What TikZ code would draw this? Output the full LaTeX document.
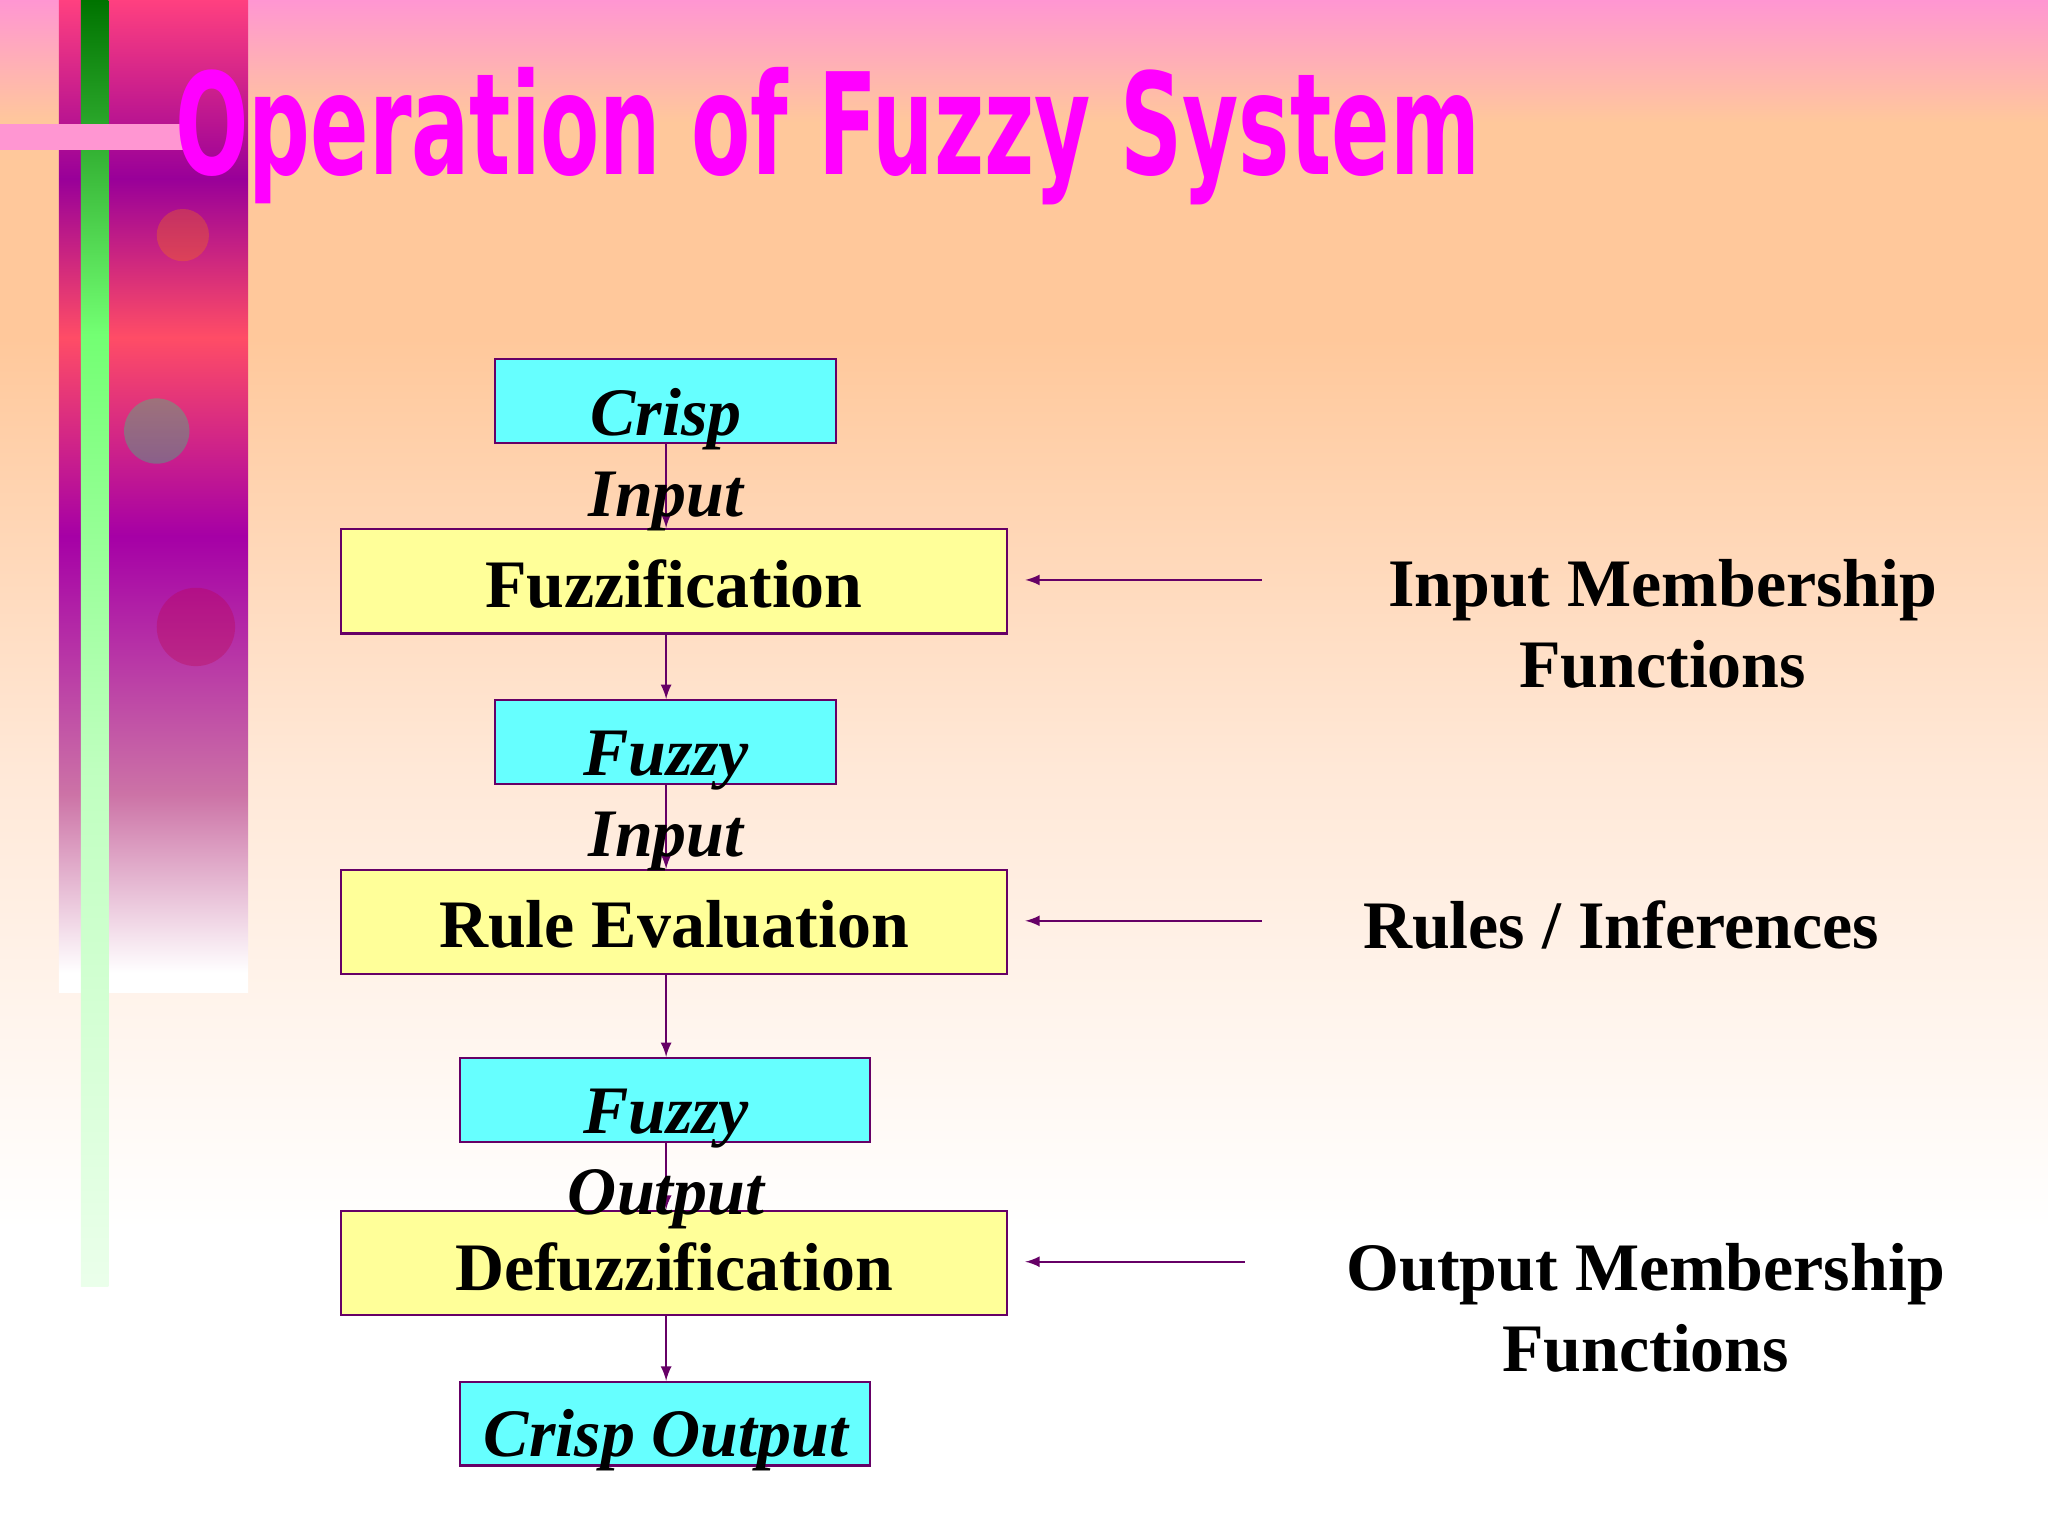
\documentclass[tikz,border=0pt]{standalone}
\usepackage{fontspec}
\setmainfont{Liberation Serif}
\newfontfamily\titlefont{DejaVu Sans Condensed}
\definecolor{bgpink}{RGB}{255,150,210}
\definecolor{bgpeach}{RGB}{255,200,155}
\definecolor{bgpale}{RGB}{255,232,215}
\definecolor{boxcyan}{RGB}{102,255,255}
\definecolor{boxyellow}{RGB}{255,255,153}
\definecolor{edge}{RGB}{102,0,102}
\definecolor{titlemag}{RGB}{255,0,255}
\pgfdeclareverticalshading{bgshade}{100bp}{color(0bp)=(white); color(35bp)=(white); color(50bp)=(bgpale); color(64bp)=(bgpeach); color(71bp)=(bgpeach); color(75bp)=(bgpink); color(100bp)=(bgpink)}
\pgfdeclareverticalshading{greenbar}{100bp}{color(0bp)=(green!8); color(25bp)=(green!8); color(45bp)=(green!25); color(62bp)=(green!55); color(75bp)=(green!45!black); color(100bp)=(green!45!black)}
\pgfdeclareverticalshading{stripshade}{100bp}{color(0bp)=(white); color(26bp)=(white); color(35bp)=(violet!40!pink); color(48bp)=(violet!70!magenta); color(58bp)=(orange!60!magenta); color(66bp)=(violet!80!magenta); color(75bp)=(magenta!50!orange); color(100bp)=(magenta!50!orange)}
\begin{document}
\begin{tikzpicture}[x=0.5pt,y=-0.5pt,
  cbox/.style={draw=edge,fill=boxcyan,line width=0.8pt},
  ybox/.style={draw=edge,fill=boxyellow,line width=0.8pt},
  btxt/.style={font=\fontsize{26}{31}\selectfont\bfseries},
  itxt/.style={font=\fontsize{26}{31}\selectfont\bfseries\itshape},
  arr/.style={draw=edge,line width=0.9pt,-latex}]
\shade[shading=bgshade] (0,0) rectangle (1568,1176);
\useasboundingbox (0,0) rectangle (1568,1176);
% decorative strip
\shade[shading=stripshade] (45,0) rectangle (190,760);
\fill[green!50!cyan,opacity=0.3] (120,330) circle (25);
\fill[orange,opacity=0.3] (140,180) circle (20);
\fill[purple,opacity=0.3] (150,480) circle (30);
\shade[shading=greenbar] (62,0) rectangle (83,985);
\fill[bgpink] (0,95) rectangle (140,115);
\node[font=\titlefont\bfseries\fontsize{54}{56}\selectfont,text=titlemag,anchor=west,inner sep=0pt,xscale=0.68] (title) at (134,104) {Operation of Fuzzy System};
% boxes
\node[cbox,minimum width=130.5pt,minimum height=32pt,inner sep=0pt] (ci) at (509.5,307) {};
\node[ybox,minimum width=255pt,minimum height=40pt,inner sep=0pt] (fz) at (516,445) {};
\node[cbox,minimum width=130.5pt,minimum height=32pt,inner sep=0pt] (fi) at (509.5,568) {};
\node[ybox,minimum width=255pt,minimum height=40pt,inner sep=0pt] (re) at (516,706) {};
\node[cbox,minimum width=157pt,minimum height=32pt,inner sep=0pt] (fo) at (509,842) {};
\node[ybox,minimum width=255pt,minimum height=40pt,inner sep=0pt] (df) at (516,967) {};
\node[cbox,minimum width=157pt,minimum height=32pt,inner sep=0pt] (co) at (509,1090) {};
% arrows
\draw[arr] (ci.south -| 510,0) -- (fz.north -| 510,0);
\draw[arr] (fz.south -| 510,0) -- (fi.north -| 510,0);
\draw[arr] (fi.south -| 510,0) -- (re.north -| 510,0);
\draw[arr] (re.south -| 510,0) -- (fo.north -| 510,0);
\draw[arr] (fo.south -| 510,0) -- (df.north -| 510,0);
\draw[arr] (df.south -| 510,0) -- (co.north -| 510,0);
% texts
\node[itxt,align=center,inner sep=0pt] (t1) at (510,352) {Crisp\\Input};
\node[btxt] (t2) at (516,447) {Fuzzification};
\node[itxt,align=center,inner sep=0pt] (t3) at (510,613) {Fuzzy\\Input};
\node[btxt] (t4) at (516,708) {Rule Evaluation};
\node[itxt,align=center,inner sep=0pt] (t5) at (510,887) {Fuzzy\\Output};
\node[btxt] (t6) at (516,970) {Defuzzification};
\node[itxt] (t7) at (510,1103) {Crisp Output};
% right labels
\node[btxt,align=center,inner sep=0pt] (l1) at (1273,478) {Input Membership\\Functions};
\node[btxt] (l2) at (1241,708) {Rules / Inferences};
\node[btxt,align=center,inner sep=0pt] (l3) at (1260,1001) {Output Membership\\Functions};
\coordinate (a1) at (966,444);
\coordinate (a2) at (966,705);
\coordinate (a3) at (953,966);
\draw[arr] (a1) -- (785,444);
\draw[arr] (a2) -- (785,705);
\draw[arr] (a3) -- (785,966);
\end{tikzpicture}
\end{document}
